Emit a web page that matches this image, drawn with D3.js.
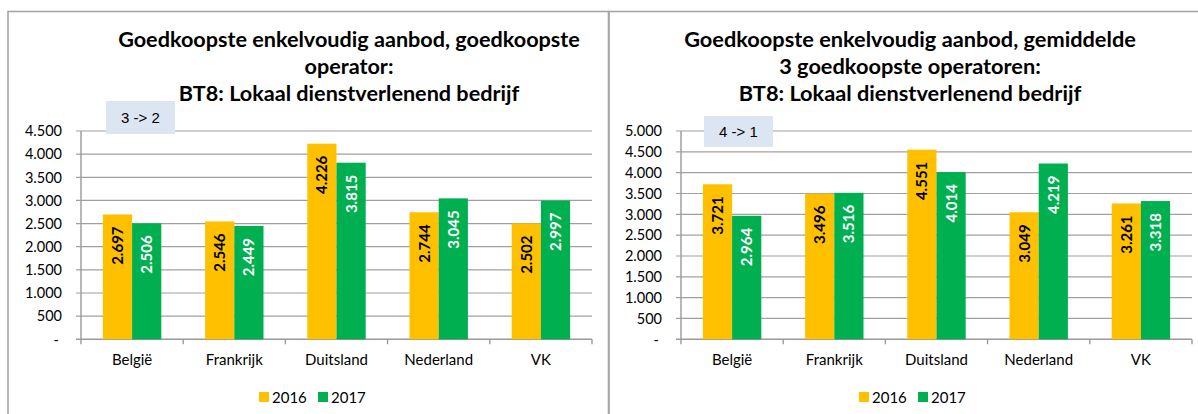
<!DOCTYPE html>
<html><head><meta charset="utf-8">
<script src="https://cdn.jsdelivr.net/npm/d3@7"></script>
<style>html,body{margin:0;padding:0;background:#fff;}svg{display:block;}</style>
</head><body>
<svg id="c" width="1198" height="414"></svg>
<script>
const categories = ["België","Frankrijk","Duitsland","Nederland","VK"];
const seriesNames = ["2016","2017"];
const left2016 = [2697,2546,4226,2744,2502];
const left2017 = [2506,2449,3815,3045,2997];
const right2016 = [3721,3496,4551,3049,3261];
const right2017 = [2964,3516,4014,4219,3318];
const leftTicks = [0,500,1000,1500,2000,2500,3000,3500,4000,4500];
const rightTicks = [0,500,1000,1500,2000,2500,3000,3500,4000,4500,5000];
const leftTitle = ["Goedkoopste enkelvoudig aanbod, goedkoopste","operator:","BT8: Lokaal dienstverlenend bedrijf"];
const rightTitle = ["Goedkoopste enkelvoudig aanbod, gemiddelde","3 goedkoopste operatoren:","BT8: Lokaal dienstverlenend bedrijf"];
const leftNote = "3 -> 2";
const rightNote = "4 -> 1";

const colors = ["#FFC000","#00B050"];
const labelColors = ["#000","#fff"];
const loc = d3.formatLocale({decimal:",", thousands:".", grouping:[3], currency:["",""]});
const fmt = loc.format(",");
const svg = d3.select("#c");
const FONT = "Lato, 'Open Sans', sans-serif";

// panel borders
svg.append("rect").attr("x",8).attr("y",11.5).attr("width",600.5).attr("height",420)
  .attr("fill","none").attr("stroke","#a6a6a6").attr("stroke-width",1.6);
svg.append("rect").attr("x",609).attr("y",11.5).attr("width",600).attr("height",420)
  .attr("fill","none").attr("stroke","#a6a6a6").attr("stroke-width",1.6);

function panel(o){
  const g = svg.append("g");
  const y = d3.scaleLinear().domain([0, o.ticks[o.ticks.length-1]]).range([339.3, 131]);
  const x = d3.scaleBand().domain(categories).range([o.x0, o.x1]);
  const inner = d3.scaleBand().domain(seriesNames).range([0, x.bandwidth()]).paddingOuter(0.75).paddingInner(0);
  g.selectAll(".grid").data(o.ticks.slice(1)).join("line")
    .attr("x1",o.x0-5).attr("x2",o.x1).attr("y1",d=>y(d)).attr("y2",d=>y(d))
    .attr("stroke","#a0a0a0").attr("stroke-width",1.2);
  g.append("line").attr("x1",o.x0-5).attr("x2",o.x1).attr("y1",y(0)).attr("y2",y(0))
    .attr("stroke","#9a9a9a").attr("stroke-width",1.4);
  g.append("line").attr("x1",o.x0).attr("x2",o.x0).attr("y1",y(o.ticks[o.ticks.length-1])).attr("y2",y(0))
    .attr("stroke","#9a9a9a").attr("stroke-width",1.4);
  const edges = categories.map(c=>x(c)).concat([o.x1]);
  g.selectAll(".xt").data(edges).join("line")
    .attr("x1",d=>d).attr("x2",d=>d).attr("y1",y(0)).attr("y2",y(0)+5)
    .attr("stroke","#9a9a9a").attr("stroke-width",1.4);
  g.selectAll(".yl").data(o.ticks).join("text")
    .attr("x",d=> d===0 ? o.x0-22 : o.x0-19).attr("y",d=>y(d)).attr("dy","0.36em")
    .attr("text-anchor","end").attr("font-family",FONT).attr("font-size",14.5).attr("fill","#000")
    .text(d=> d===0 ? "-" : fmt(d));
  g.selectAll(".xl").data(categories).join("text")
    .attr("x",d=>x(d)+x.bandwidth()/2).attr("y",365)
    .attr("text-anchor","middle").attr("font-family",FONT).attr("font-size",15).attr("fill","#000")
    .text(d=>d);
  const series = [o.s2016, o.s2017];
  series.forEach((vals,si)=>{
    const gs = g.append("g");
    gs.selectAll("rect").data(vals).join("rect")
      .attr("x",(d,i)=>x(categories[i])+inner(seriesNames[si]))
      .attr("width",inner.bandwidth())
      .attr("y",d=>y(d)).attr("height",d=>y(0)-y(d))
      .attr("fill",colors[si]);
    gs.selectAll("text").data(vals).join("text")
      .attr("transform",(d,i)=>`translate(${x(categories[i])+inner(seriesNames[si])+inner.bandwidth()/2},${y(d)+12}) rotate(-90)`)
      .attr("text-anchor","end").attr("dy","0.36em")
      .attr("font-family",FONT).attr("font-weight","bold").attr("font-size",15)
      .attr("fill",labelColors[si]).text(d=>fmt(d));
  });
  g.append("rect").attr("x",o.note.x).attr("y",o.note.y).attr("width",o.note.w).attr("height",o.note.h)
    .attr("fill","#DCE6F2");
  g.append("text").attr("x",o.note.x+o.note.w/2).attr("y",o.note.y+o.note.h/2).attr("dy","0.36em")
    .attr("text-anchor","middle").attr("font-family","'Liberation Sans', Arial, sans-serif").attr("font-size",15)
    .attr("fill","#000").text(o.note.text);
  const tt = g.selectAll(".tt").data(o.title).join("text")
    .attr("x",o.tcx).attr("y",(d,i)=>[47,74,101][i])
    .attr("text-anchor","middle").attr("font-family",FONT).attr("font-weight","bold").attr("font-size",19)
    .attr("fill","#000").text(d=>d);
  const w = tt.nodes()[0].getComputedTextLength();
  const fs = 19*o.tw/w;
  tt.attr("font-size",fs);
  const lg = g.append("g").attr("transform",`translate(${o.lx},0)`);
  seriesNames.forEach((s,i)=>{
    lg.append("rect").attr("x",i*59).attr("y",392).attr("width",10).attr("height",10).attr("fill",colors[i]);
    lg.append("text").attr("x",i*59+13).attr("y",403).attr("font-family",FONT).attr("font-size",15)
      .attr("fill","#000").text(s);
  });
}

panel({x0:81, x1:592, ticks:leftTicks, s2016:left2016, s2017:left2017, title:leftTitle,
  tcx:349, tw:462, lx:259, note:{x:106,y:101,w:69,h:33,text:leftNote}});
panel({x0:681, x1:1192, ticks:rightTicks, s2016:right2016, s2017:right2017, title:rightTitle,
  tcx:910, tw:452, lx:859, note:{x:704,y:116,w:69,h:31,text:rightNote}});
</script>
</body></html>
